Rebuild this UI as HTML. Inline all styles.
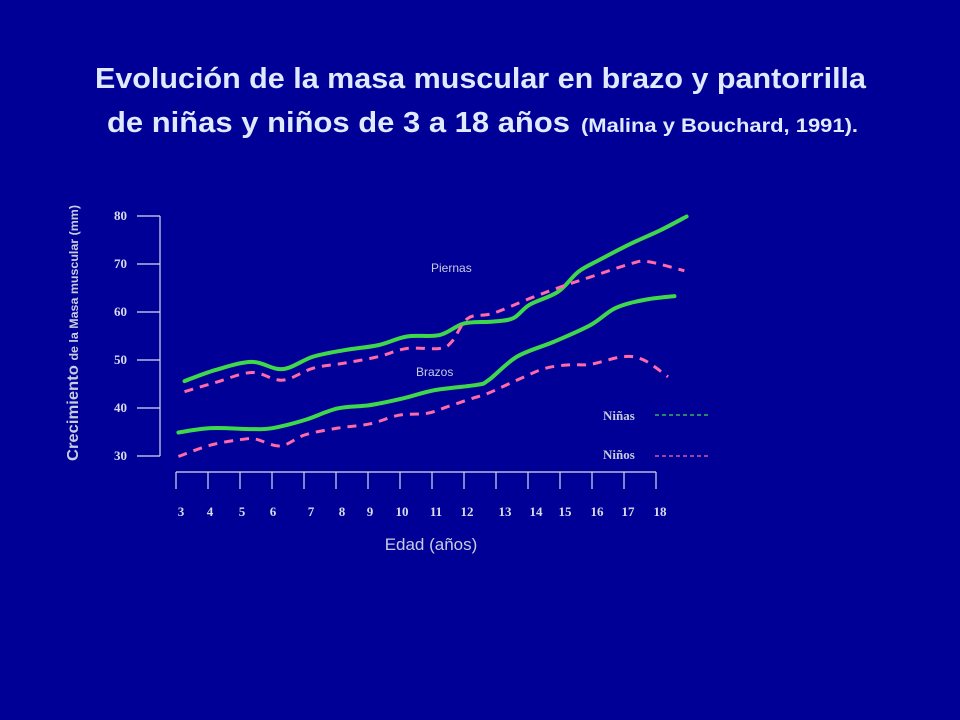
<!DOCTYPE html>
<html><head><meta charset="utf-8"><style>
html,body{margin:0;padding:0;background:#000096;}
svg{display:block;}
</style></head><body>
<svg id="chart" width="960" height="720" viewBox="0 0 960 720" xmlns="http://www.w3.org/2000/svg" font-family="Liberation Sans, sans-serif">
<rect x="0" y="0" width="960" height="720" fill="#000096"/>
<text x="95" y="88" fill="#dfe9ff" font-size="29" font-weight="bold" textLength="771" lengthAdjust="spacingAndGlyphs">Evolución de la masa muscular en brazo y pantorrilla</text>
<text x="107" y="132" fill="#dfe9ff" font-size="29" font-weight="bold" textLength="463" lengthAdjust="spacingAndGlyphs">de niñas y niños de  3 a 18 años</text>
<text x="581" y="132" fill="#dfe9ff" font-size="19" font-weight="bold" textLength="277" lengthAdjust="spacingAndGlyphs">(Malina y Bouchard, 1991).</text>
<text transform="translate(78,461) rotate(-90)" fill="#c8cce0" font-weight="bold" textLength="256" lengthAdjust="spacingAndGlyphs"><tspan font-size="16">Crecimiento </tspan><tspan font-size="12">de la Masa muscular (mm)</tspan></text>
<g id="axes"></g>
<g id="series"></g>
<text x="431" y="272" fill="#c8cce0" font-size="12">Piernas</text>
<text x="416" y="376" fill="#c8cce0" font-size="12">Brazos</text>
<text x="603" y="420" fill="#c8cce0" font-size="13" font-family="Liberation Serif, serif" font-weight="bold">Niñas</text>
<line x1="655" y1="415" x2="710" y2="415" stroke="#3fd84a" stroke-width="1.2" stroke-dasharray="4,3"/>
<text x="603" y="459" fill="#c8cce0" font-size="13" font-family="Liberation Serif, serif" font-weight="bold">Niños</text>
<line x1="655" y1="456" x2="710" y2="456" stroke="#ff6aa8" stroke-width="1.2" stroke-dasharray="4,3"/>
<text x="431" y="550" fill="#c8cce0" font-size="17" text-anchor="middle">Edad (años)</text>
</svg>
<script>
const yTicks = [30, 40, 50, 60, 70, 80];
const xLabels = [3,4,5,6,7,8,9,10,11,12,13,14,15,16,17,18];
const xLabelPos = [181,210,242,273,311,342,370,402,436,467,505,536,565,597,628,660];
const piernasNinasAge = [3.11,4.07,5.21,6.17,7.13,8.15,9.17,10.06,11.08,11.84,12.74,13.38,13.89,14.78,15.42,16.06,17.08,18.0,18.8];
const piernasNinasVal = [45.6,47.9,49.6,48.1,50.7,52.1,53.1,54.9,55.2,57.6,58,58.7,61.5,64.2,68.4,70.8,74.3,77.1,79.9];
const piernasNinosAge = [3.11,4.07,5.21,6.17,7.13,8.15,9.17,10.06,11.08,11.46,11.97,12.74,13.89,14.9,15.8,17.08,17.59,18.73];
const piernasNinosVal = [43.4,45.3,47.4,45.8,48.3,49.4,50.7,52.4,52.4,53.8,58.7,59.7,62.8,65.3,67.3,70.1,70.5,68.6];
const brazosNinasAge = [2.92,3.94,5.21,5.85,6.87,7.89,8.91,9.93,10.95,12.23,12.61,13.5,14.65,15.8,16.57,17.46,18.42];
const brazosNinasVal = [34.9,35.8,35.6,35.8,37.5,39.9,40.6,42.0,43.75,44.8,45.8,50.7,53.8,57.3,60.8,62.5,63.3];
const brazosNinosAge = [2.92,3.94,4.96,5.34,6.11,6.87,7.89,8.91,9.81,10.7,11.34,12.1,12.61,13.63,14.4,15.16,15.8,16.82,17.46,18.22];
const brazosNinosVal = [29.9,32.3,33.5,33.5,32.1,34.4,35.8,36.7,38.5,38.9,40.3,42,43.1,46.2,48.3,49,49.1,50.7,50,46.5];

const NS = 'http://www.w3.org/2000/svg';
const xScale = a => 181 + (a - 3) * 32;
const yScale = v => 456 - (v - 30) * 4.8;
const AX = '#d8dcec';
const axes = document.getElementById('axes');
const series = document.getElementById('series');
function mk(tag, attrs, parent) {
  const e = document.createElementNS(NS, tag);
  for (const k in attrs) e.setAttribute(k, attrs[k]);
  parent.appendChild(e);
  return e;
}
let yl = mk('line', {x1:160, y1:yScale(yTicks[yTicks.length-1]), x2:160, y2:yScale(yTicks[0]), stroke:AX, 'stroke-width':1.2}, axes);


yTicks.forEach(t => {
  const tk = mk('line', {x1:137, y1:yScale(t), x2:160, y2:yScale(t), stroke:AX, 'stroke-width':1.2}, axes);
  
  
  const lb = mk('text', {x:114, y:yScale(t) + 4, fill:AX, 'font-size':13, 'font-family':'Liberation Serif, serif', 'font-weight':'bold'}, axes);
  lb.textContent = t;
  
  
});
let xl = mk('line', {x1:176, y1:472, x2:656, y2:472, stroke:AX, 'stroke-width':1.2}, axes);


xLabels.forEach((lab, i) => {
  const tx = 176 + i * 32;
  const tk = mk('line', {x1:tx, y1:472, x2:tx, y2:489, stroke:AX, 'stroke-width':1.2}, axes);
  
  
  const lb = mk('text', {x:xLabelPos[i], y:516, fill:AX, 'font-size':13, 'font-family':'Liberation Serif, serif', 'font-weight':'bold', 'text-anchor':'middle'}, axes);
  lb.textContent = lab;
  
  
});
function smooth(ages, vals) {
  const p = ages.map((a, i) => [xScale(a), yScale(vals[i])]);
  let d = 'M' + p[0][0] + ',' + p[0][1];
  for (let i = 0; i < p.length - 1; i++) {
    const p0 = p[i-1] || p[i], p1 = p[i], p2 = p[i+1], p3 = p[i+2] || p[i+1];
    const c1x = p1[0] + (p2[0]-p0[0])/6, c1y = p1[1] + (p2[1]-p0[1])/6;
    const c2x = p2[0] - (p3[0]-p1[0])/6, c2y = p2[1] - (p3[1]-p1[1])/6;
    d += ' C' + c1x + ',' + c1y + ' ' + c2x + ',' + c2y + ' ' + p2[0] + ',' + p2[1];
  }
  return d;
}
const defs = [
  [piernasNinasAge, piernasNinasVal, '#3fd84a', null, 'line-piernas-ninas'],
  [piernasNinosAge, piernasNinosVal, '#ff6aa8', '9,7', 'line-piernas-ninos'],
  [brazosNinasAge, brazosNinasVal, '#3fd84a', null, 'line-brazos-ninas'],
  [brazosNinosAge, brazosNinosVal, '#ff6aa8', '9,7', 'line-brazos-ninos']
];
defs.forEach(s => {
  const attrs = {d: smooth(s[0], s[1]), fill:'none', stroke:s[2], 'stroke-width': s[3] ? 3 : 4, 'stroke-linecap':'round'};
  if (s[3]) { attrs['stroke-dasharray'] = s[3]; attrs['stroke-linecap'] = 'butt'; }
  const path = mk('path', attrs, series);
  
  
});
</script>
</body></html>
